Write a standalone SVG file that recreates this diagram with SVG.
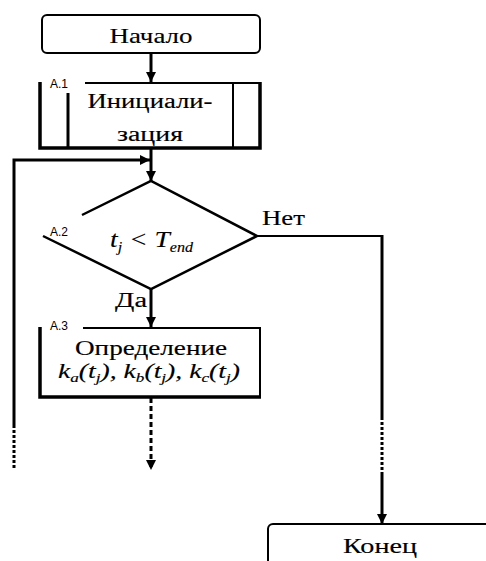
<svg xmlns="http://www.w3.org/2000/svg" width="486" height="561" viewBox="0 0 486 561">
<defs>
<style>
text{font-family:"Liberation Serif","DejaVu Serif",serif;fill:#000;stroke:#000;stroke-width:0.15px}
text.it{font-style:italic}
text.lbl{font-family:"Liberation Sans","DejaVu Sans",sans-serif;font-size:12px;stroke:none}
.ln{stroke:#000;fill:none}
</style>
<marker id="ah" viewBox="0 0 10 10" refX="10" refY="5" markerWidth="10" markerHeight="10" markerUnits="userSpaceOnUse" orient="auto"><path d="M0,0 L10,5 L0,10 z" fill="#000"/></marker>
</defs>
<rect width="486" height="561" fill="#fff"/>
<g id="connectors">
<line class="ln" x1="151" y1="53" x2="151" y2="82" stroke-width="3" marker-end="url(#ah)"/>
<line class="ln" x1="151" y1="149" x2="151" y2="181" stroke-width="3" marker-end="url(#ah)"/>
<polyline class="ln" points="14,425 14,160 150,160" stroke-width="3" marker-end="url(#ah)"/>
<line class="ln" x1="14" y1="425" x2="14" y2="470" stroke-width="3" stroke-dasharray="3,2"/>
<line class="ln" x1="151" y1="289" x2="151" y2="327" stroke-width="3" marker-end="url(#ah)"/>
<line class="ln" x1="151" y1="398" x2="151" y2="470" stroke-width="3" stroke-dasharray="5,3" marker-end="url(#ah)"/>
<polyline class="ln" points="257,236 382,236" stroke-width="2"/>
<line class="ln" x1="382" y1="235" x2="382" y2="417" stroke-width="3"/>
<line class="ln" x1="382" y1="417" x2="382" y2="474" stroke-width="3" stroke-dasharray="3,2"/>
<line class="ln" x1="382" y1="474" x2="382" y2="524" stroke-width="3" marker-end="url(#ah)"/>
</g>
<g id="start">
<rect x="42" y="15" width="218" height="38" rx="5" class="ln" stroke-width="2"/>
<text x="151" y="43" font-size="22" text-anchor="middle" textLength="83" lengthAdjust="spacingAndGlyphs">Начало</text>
</g>
<g id="A1">
<line class="ln" x1="85" y1="83" x2="260" y2="83" stroke-width="2"/>
<polyline class="ln" points="40,82 40,148 260,148 260,82" stroke-width="3.5"/>
<line class="ln" x1="68" y1="93" x2="68" y2="148" stroke-width="3"/>
<line class="ln" x1="233" y1="83" x2="233" y2="148" stroke-width="2"/>
<text class="lbl" x="50" y="88">A.1</text>
<text x="150" y="108" font-size="20" text-anchor="middle" textLength="125" lengthAdjust="spacingAndGlyphs">Инициали-</text>
<text x="150" y="141" font-size="20" text-anchor="middle" textLength="66" lengthAdjust="spacingAndGlyphs">зация</text>
</g>
<g id="A2">
<polyline class="ln" points="82,215 151,181 257,236 151,289 43,236" stroke-width="2.5"/>
<text class="lbl" x="50" y="236">A.2</text>
<text class="it" x="110" y="247" font-size="24" textLength="83" lengthAdjust="spacingAndGlyphs">t<tspan font-size="14" dy="5">j</tspan><tspan dy="-5"> &lt; T</tspan><tspan font-size="14" dy="5">end</tspan></text>
<text x="262" y="225" font-size="20" textLength="43" lengthAdjust="spacingAndGlyphs">Нет</text>
<text x="115" y="307" font-size="20" textLength="32" lengthAdjust="spacingAndGlyphs">Да</text>
</g>
<g id="A3">
<polyline class="ln" points="83,328 260,328 260,397" stroke-width="2"/>
<polyline class="ln" points="40,327 40,397 261,397" stroke-width="3.5"/>
<text class="lbl" x="50" y="330">A.3</text>
<text x="151" y="355" font-size="20" text-anchor="middle" textLength="152" lengthAdjust="spacingAndGlyphs">Определение</text>
<text class="it" x="58" y="378" font-size="21" textLength="182" lengthAdjust="spacingAndGlyphs">k<tspan font-size="13" dy="4">a</tspan><tspan dy="-4">(t</tspan><tspan font-size="13" dy="4">j</tspan><tspan dy="-4">), k</tspan><tspan font-size="13" dy="4">b</tspan><tspan dy="-4">(t</tspan><tspan font-size="13" dy="4">j</tspan><tspan dy="-4">), k</tspan><tspan font-size="13" dy="4">c</tspan><tspan dy="-4">(t</tspan><tspan font-size="13" dy="4">j</tspan><tspan dy="-4">)</tspan></text>
</g>
<g id="end">
<rect x="268" y="524" width="240" height="50" rx="5" class="ln" stroke-width="2"/>
<text x="380" y="553" font-size="20" text-anchor="middle" textLength="74" lengthAdjust="spacingAndGlyphs">Конец</text>
</g>
</svg>
